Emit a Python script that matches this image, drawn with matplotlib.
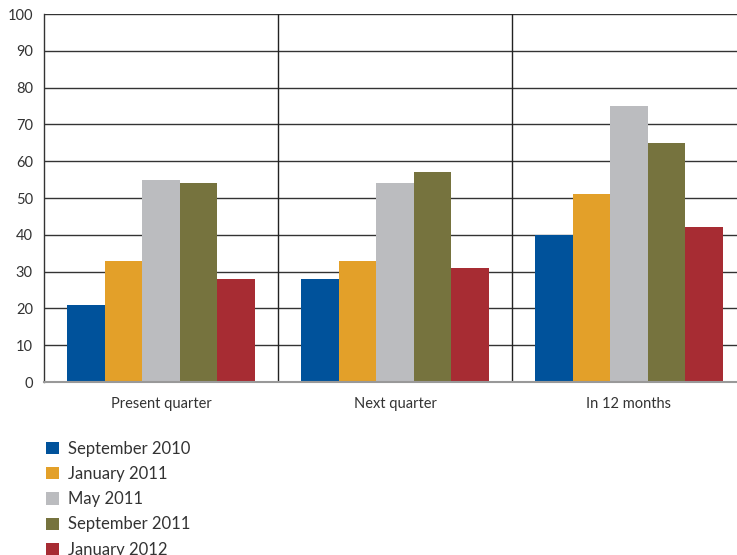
import numpy as np
import matplotlib.pyplot as plt
from matplotlib.patches import Patch

plt.rcParams['font.family'] = ['Lato', 'DejaVu Sans']

# Data
categories = ['Present quarter', 'Next quarter', 'In 12 months']
series_names = ['September 2010', 'January 2011', 'May 2011', 'September 2011', 'January 2012']
sep_2010 = [21, 28, 40]
jan_2011 = [33, 33, 51]
may_2011 = [55, 54, 75]
sep_2011 = [54, 57, 65]
jan_2012 = [28, 31, 42]
series_values = [sep_2010, jan_2011, may_2011, sep_2011, jan_2012]
colors = ['#00529b', '#e3a029', '#bbbcbf', '#76733e', '#a72c33']
yticks = list(range(0, 101, 10))

fig = plt.figure(figsize=(7.37, 5.55), dpi=100)
# axes: left 44px, right ~746px (runs off the edge), top 14px, bottom 382px
ax = fig.add_axes([44 / 737, 1 - 382 / 555, (746 - 44) / 737, (382 - 14) / 555])

x = np.arange(len(categories))
width = 0.16
for i, (vals, c) in enumerate(zip(series_values, colors)):
    ax.bar(x + (i - 2) * width, vals, width, color=c, zorder=3, linewidth=0)

ax.set_xlim(-0.5, 2.5)
ax.set_ylim(0, 100)
ax.set_yticks(yticks)
ax.set_xticks(x)
ax.set_xticklabels(categories)
ax.tick_params(axis='both', length=0, labelsize=10.5, colors='#333333', pad=8)
ax.tick_params(axis='x', pad=11)

for y in yticks[1:]:
    ax.axhline(y, color='#333333', lw=1.0, zorder=1)
for xs in [0.5, 1.5]:
    ax.axvline(xs, color='#222222', lw=1.0, zorder=1)

for s in ['top', 'right']:
    ax.spines[s].set_visible(False)
ax.spines['left'].set_color('#333333')
ax.spines['left'].set_linewidth(1.0)
ax.spines['bottom'].set_color('#999999')
ax.spines['bottom'].set_linewidth(1.5)
ax.spines['bottom'].set_zorder(4)

handles = [Patch(facecolor=c, edgecolor='none') for c in colors]
fig.legend(handles, series_names, loc='upper left',
           bbox_to_anchor=(46 / 737, 1 - 441 / 555), frameon=False,
           fontsize=12, handlelength=0.75, handleheight=0.75,
           handletextpad=0.6, labelspacing=0.55, borderpad=0, borderaxespad=0,
           labelcolor='#333333')

fig.savefig('out.png', dpi=100)
